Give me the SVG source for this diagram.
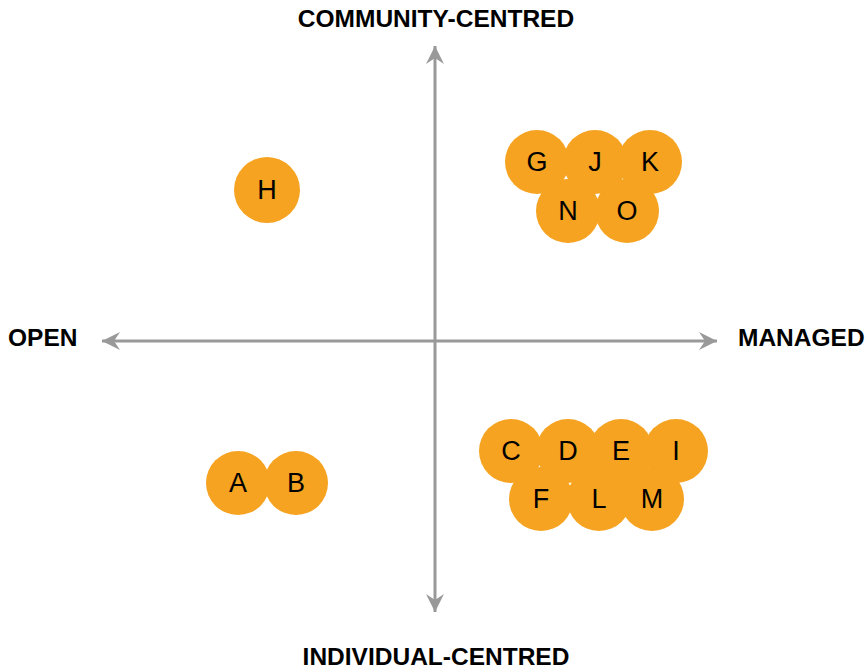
<svg xmlns="http://www.w3.org/2000/svg" width="865" height="669" viewBox="0 0 865 669">
<style>
.ax{stroke:#999;stroke-width:3;fill:none}
.n circle{fill:#F5A320}
.n text{font-family:"Liberation Sans",Arial,sans-serif;font-size:27px;fill:#000;text-anchor:middle;dominant-baseline:central}
.lbl{font-family:"Liberation Sans",Arial,sans-serif;font-weight:bold;font-size:24.5px;fill:#000}
</style>
<defs>
<marker id="ah" markerUnits="userSpaceOnUse" markerWidth="20" markerHeight="20" viewBox="-18 -10 20 20" refX="0" refY="0" orient="auto-start-reverse">
<path d="M0,0 L-18,-9 L-12,0 L-18,9 Z" fill="#999"/>
</marker>
</defs>
<rect width="865" height="669" fill="#fff"/>
<g id="connectors">
<line class="ax" x1="435" y1="612" x2="435" y2="46" marker-start="url(#ah)" marker-end="url(#ah)"/>
<line class="ax" x1="102" y1="341" x2="717" y2="341" marker-start="url(#ah)" marker-end="url(#ah)"/>
</g>
<g id="labels">
<text class="lbl" x="436" y="27" text-anchor="middle">COMMUNITY-CENTRED</text>
<text class="lbl" x="436" y="665" text-anchor="middle">INDIVIDUAL-CENTRED</text>
<text class="lbl" x="8" y="346">OPEN</text>
<text class="lbl" x="738" y="346">MANAGED</text>
</g>
<g id="H" class="n"><circle cx="267" cy="190" r="33"/><text x="267" y="190">H</text></g>
<g id="A" class="n"><circle cx="238" cy="483" r="32"/><text x="238" y="483">A</text></g>
<g id="B" class="n"><circle cx="296" cy="483" r="32"/><text x="296" y="483">B</text></g>
<g id="N" class="n"><circle cx="568" cy="211" r="32"/><text x="568" y="211">N</text></g>
<g id="O" class="n"><circle cx="627" cy="211" r="32"/><text x="627" y="211">O</text></g>
<g id="G" class="n"><circle cx="537" cy="162" r="32"/><text x="537" y="162">G</text></g>
<g id="J" class="n"><circle cx="595" cy="162" r="32"/><text x="595" y="162">J</text></g>
<g id="K" class="n"><circle cx="650" cy="162" r="32"/><text x="650" y="162">K</text></g>
<g id="F" class="n"><circle cx="541" cy="499" r="32"/><text x="541" y="499">F</text></g>
<g id="L" class="n"><circle cx="599" cy="499" r="32"/><text x="599" y="499">L</text></g>
<g id="M" class="n"><circle cx="652" cy="499" r="32"/><text x="652" y="499">M</text></g>
<g id="C" class="n"><circle cx="511" cy="451" r="32"/><text x="511" y="451">C</text></g>
<g id="D" class="n"><circle cx="568" cy="451" r="32"/><text x="568" y="451">D</text></g>
<g id="E" class="n"><circle cx="621" cy="451" r="32"/><text x="621" y="451">E</text></g>
<g id="I" class="n"><circle cx="676" cy="451" r="32"/><text x="676" y="451">I</text></g>
</svg>
